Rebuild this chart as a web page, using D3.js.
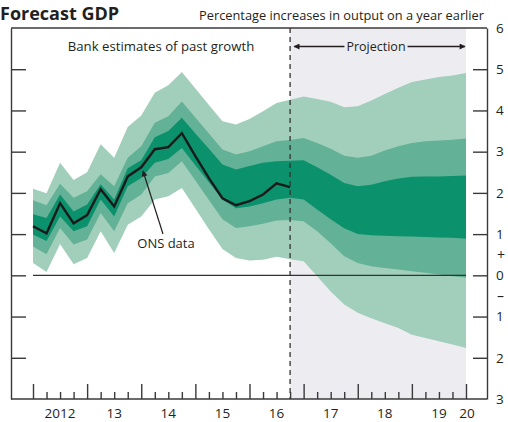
<!DOCTYPE html>
<html>
<head>
<meta charset="utf-8">
<script src="https://cdn.jsdelivr.net/npm/d3@7"></script>
<style>
  html, body { margin: 0; padding: 0; background: #ffffff; }
  svg { display: block; }
  text { font-family: "Open Sans", "Noto Sans", sans-serif; fill: #231f20; }
</style>
</head>
<body>
<svg id="chart" width="508" height="422"></svg>
<script>
// ---- data ----
const startYear = 2012;
const quarters = d3.range(33).map(i => startYear + i * 0.25);
const onsData = [1.19, 1.02, 1.75, 1.26, 1.46, 2.09, 1.67, 2.40, 2.62, 3.06, 3.11, 3.45, 2.89, 2.36, 1.87, 1.70, 1.80, 1.96, 2.23, 2.14];
const lightTop = [2.10, 1.99, 2.73, 2.31, 2.50, 3.18, 2.85, 3.60, 3.88, 4.43, 4.61, 4.93, 4.53, 4.13, 3.74, 3.66, 3.79, 3.98, 4.18, 4.26, 4.34, 4.28, 4.21, 4.08, 4.10, 4.24, 4.40, 4.55, 4.69, 4.75, 4.81, 4.85, 4.91];
const medTop   = [1.82, 1.70, 2.22, 1.88, 2.04, 2.45, 2.16, 2.85, 3.13, 3.70, 3.86, 4.22, 3.83, 3.44, 3.05, 2.93, 3.01, 3.13, 3.25, 3.28, 3.33, 3.21, 3.07, 2.90, 2.85, 2.90, 3.03, 3.13, 3.21, 3.25, 3.27, 3.29, 3.32];
const darkTop  = [1.48, 1.39, 1.96, 1.55, 1.72, 2.21, 1.84, 2.60, 2.79, 3.35, 3.50, 3.82, 3.44, 3.07, 2.69, 2.57, 2.65, 2.73, 2.77, 2.78, 2.79, 2.62, 2.44, 2.24, 2.16, 2.20, 2.28, 2.35, 2.39, 2.40, 2.40, 2.41, 2.42];
const darkBot  = [0.99, 0.83, 1.43, 1.07, 1.19, 1.84, 1.43, 2.16, 2.36, 2.73, 2.82, 3.09, 2.67, 2.26, 1.84, 1.63, 1.67, 1.75, 1.84, 1.88, 1.84, 1.60, 1.36, 1.14, 1.00, 0.97, 0.96, 0.95, 0.94, 0.93, 0.92, 0.91, 0.89];
const medBot   = [0.70, 0.51, 1.15, 0.75, 0.87, 1.51, 1.07, 1.75, 1.96, 2.40, 2.48, 2.77, 2.30, 1.83, 1.36, 1.15, 1.19, 1.25, 1.33, 1.34, 1.31, 1.07, 0.78, 0.46, 0.30, 0.22, 0.18, 0.14, 0.10, 0.06, 0.02, -0.02, -0.06];
const lightBot = [0.30, 0.08, 0.76, 0.27, 0.42, 1.07, 0.54, 1.23, 1.43, 1.84, 1.92, 2.12, 1.62, 1.12, 0.64, 0.42, 0.36, 0.38, 0.45, 0.39, 0.34, -0.02, -0.39, -0.71, -0.91, -1.04, -1.16, -1.28, -1.44, -1.52, -1.60, -1.68, -1.76];
const projectionStart = 2016.75;
const yearTicks = [2012, 2013, 2014, 2015, 2016, 2017, 2018, 2019, 2020];
const yearLabels = ["2012", "13", "14", "15", "16", "17", "18", "19", "20"];
const yTicks = [6, 5, 4, 3, 2, 1, 0, -1, -2, -3];

// ---- layout ----
const svg = d3.select("#chart");
const L = 11, R = 487, T = 28, B = 399;
const x = d3.scaleLinear().domain([2012, 2020]).range([33, 466]);
const y = d3.scaleLinear().domain([-3, 6]).range([B, T]);
const frame = "#3a3a3a";

// projection shading
svg.append("rect")
  .attr("x", x(projectionStart)).attr("y", T)
  .attr("width", x(2020) - x(projectionStart)).attr("height", B - T)
  .attr("fill", "#ededf1");

// fan bands
const bands = [
  { lo: lightBot, hi: lightTop, c: "#a1cfbb" },
  { lo: medBot, hi: medTop, c: "#63b196" },
  { lo: darkBot, hi: darkTop, c: "#0b916c" }
];
bands.forEach(b => {
  const area = d3.area()
    .x((d, i) => x(quarters[i]))
    .y0((d, i) => y(b.lo[i]))
    .y1((d, i) => y(b.hi[i]));
  svg.append("path").datum(quarters).attr("d", area).attr("fill", b.c);
});

// zero line
svg.append("line")
  .attr("x1", x(2012)).attr("x2", x(2020))
  .attr("y1", y(0)).attr("y2", y(0))
  .attr("stroke", "#333").attr("stroke-width", 1.4);

// ONS line
const line = d3.line().x((d, i) => x(quarters[i])).y(d => y(d));
svg.append("path").datum(onsData).attr("d", line)
  .attr("fill", "none").attr("stroke", "#1a1a1a").attr("stroke-width", 2.4)
  .attr("stroke-linejoin", "miter");

// dashed projection line
svg.append("line")
  .attr("x1", x(projectionStart)).attr("x2", x(projectionStart))
  .attr("y1", T).attr("y2", B)
  .attr("stroke", "#333").attr("stroke-width", 1.3).attr("stroke-dasharray", "5,4");

// top border
svg.append("line").attr("x1", L).attr("x2", R).attr("y1", T).attr("y2", T)
  .attr("stroke", frame).attr("stroke-width", 1.4);

// left axis
const leftAxis = d3.axisLeft(y).tickValues([5, 4, 3, 2, 1, 0, -1, -2])
  .tickSizeInner(-15).tickSizeOuter(0).tickFormat("");
const gl = svg.append("g").attr("transform", `translate(${L},0)`).call(leftAxis);

// right axis
const rightAxis = d3.axisRight(y).tickValues(yTicks)
  .tickSizeInner(-14).tickSizeOuter(0).tickPadding(9)
  .tickFormat(d => String(Math.abs(d)));
const gr = svg.append("g").attr("transform", `translate(${R},0)`).call(rightAxis);
gr.selectAll(".tick").filter(d => d === 6 || d === -3).select("line").remove();
gr.selectAll("text").style("font-size", "13.5px").attr("fill", "#231f20");

// bottom axis: major + minor ticks
const bottomMajor = d3.axisBottom(x).tickValues(yearTicks).tickSizeInner(-15).tickSizeOuter(0).tickFormat("");
const gb = svg.append("g").attr("transform", `translate(0,${B})`).call(bottomMajor);
gb.select(".domain").remove();
const minorQ = quarters.filter(q => !Number.isInteger(q));
const bottomMinor = d3.axisBottom(x).tickValues(minorQ).tickSizeInner(-7).tickSizeOuter(0).tickFormat("");
const gm = svg.append("g").attr("transform", `translate(0,${B})`).call(bottomMinor);
gm.select(".domain").remove();
svg.append("line").attr("x1", L).attr("x2", R).attr("y1", B).attr("y2", B)
  .attr("stroke", frame).attr("stroke-width", 1.4);

[gl, gr, gb, gm].forEach(g => {
  g.selectAll("line").attr("stroke", frame).attr("stroke-width", 1.4);
  g.selectAll(".domain").attr("stroke", frame).attr("stroke-width", 1.4);
});

// year labels
svg.append("g").selectAll("text").data(yearLabels).join("text")
  .attr("x", (d, i) => i === yearLabels.length - 1 ? x(yearTicks[i]) + 1 : x(yearTicks[i] + 0.5))
  .attr("y", 418).attr("text-anchor", "middle").style("font-size", "13.5px")
  .text(d => d);

// plus / minus markers
svg.append("text").attr("x", 497).attr("y", y(0.5)).attr("dy", "0.35em")
  .style("font-size", "14px").text("+");
svg.append("text").attr("x", 497).attr("y", y(-0.5)).attr("dy", "0.35em")
  .style("font-size", "14px").text("\u2013");

// title (sits at the very top, as in the source)
svg.append("text").attr("x", 0).attr("y", 20)
  .style("font-size", "18px").style("font-weight", "bold").text("Forecast GDP");

// units label
svg.append("text").attr("x", 484).attr("y", 20).attr("text-anchor", "end")
  .style("font-size", "12.8px").text("Percentage increases in output on a year earlier");

// annotations
svg.append("text").attr("x", 161).attr("y", 51).attr("text-anchor", "middle")
  .style("font-size", "13.2px").text("Bank estimates of past growth");

const projMid = 376;
const projText = svg.append("text").attr("x", projMid).attr("y", 51).attr("text-anchor", "middle")
  .style("font-size", "12.5px").text("Projection");
const halfW = projText.node().getComputedTextLength() / 2;

const defs = svg.append("defs");
defs.append("marker").attr("id", "ah").attr("viewBox", "0 0 10 10")
  .attr("refX", 9).attr("refY", 5).attr("markerWidth", 9).attr("markerHeight", 6)
  .attr("orient", "auto-start-reverse").attr("markerUnits", "userSpaceOnUse")
  .append("path").attr("d", "M0,0 L10,5 L0,10 Z").attr("fill", "#231f20");

svg.append("line").attr("x1", projMid - halfW - 2).attr("x2", x(projectionStart) + 4).attr("y1", 46.5).attr("y2", 46.5)
  .attr("stroke", "#231f20").attr("stroke-width", 1.3).attr("marker-end", "url(#ah)");
svg.append("line").attr("x1", projMid + halfW + 2).attr("x2", x(2020) - 1).attr("y1", 46.5).attr("y2", 46.5)
  .attr("stroke", "#231f20").attr("stroke-width", 1.3).attr("marker-end", "url(#ah)");

svg.append("text").attr("x", 166).attr("y", 248).attr("text-anchor", "middle")
  .style("font-size", "13px").text("ONS data");
svg.append("line").attr("x1", 163).attr("y1", 234).attr("x2", 143).attr("y2", 171)
  .attr("stroke", "#231f20").attr("stroke-width", 1.2).attr("marker-end", "url(#ah)");
</script>
</body>
</html>
